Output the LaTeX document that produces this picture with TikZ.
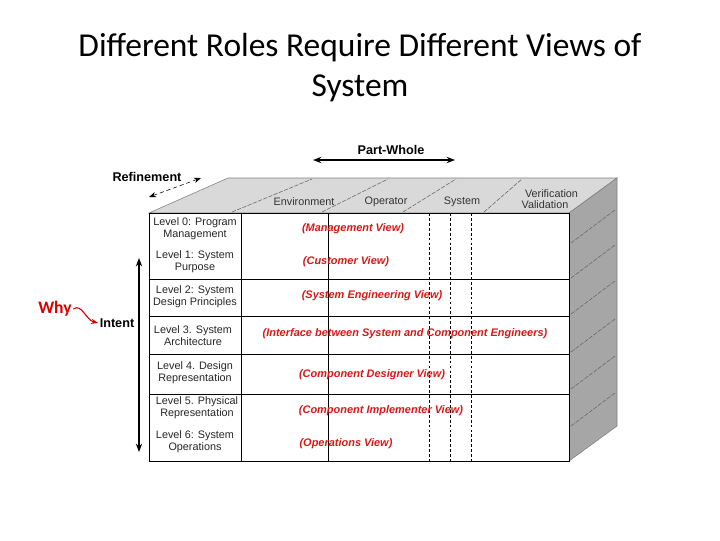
\documentclass[tikz,border=0pt]{standalone}
\usepackage{fontspec}
\setmainfont{Liberation Sans}
\newfontfamily\titlefont{Carlito}
\usetikzlibrary{arrows.meta,positioning,calc}
\definecolor{topgray}{RGB}{217,217,217}
\definecolor{sidegray}{RGB}{166,166,166}
\definecolor{viewred}{RGB}{215,25,25}

\begin{document}
\begin{tikzpicture}[x=0.025cm,y=-0.025cm,font=\fontsize{7.7}{8.6}\selectfont,
  level/.style={align=center,text=black!85,inner sep=1pt},
  view/.style={text=viewred,font=\fontsize{7.8}{9}\selectfont\bfseries\itshape},
  colhead/.style={text=black!80,align=center,inner sep=1pt},
  axis label/.style={font=\fontsize{9}{10}\selectfont\bfseries,inner sep=1pt},
  frame line/.style={draw=black,line width=0.6pt},
  dash line/.style={draw=black,line width=0.5pt,dash pattern=on 2pt off 1.5pt},
  face line/.style={draw=black!60,line width=0.4pt,dash pattern=on 3pt off 1pt}]
\useasboundingbox (0,0) rectangle (720,540);
\node[font=\titlefont\fontsize{23.8}{28.5}\selectfont,align=center] (title) at (360,68) {Different Roles Require Different Views of\\System};
% faces of the block
\filldraw[fill=topgray,draw=black!50] (149,213) -- (228,178) -- (617,178) -- (569,213) -- cycle;
\filldraw[fill=sidegray,draw=black!50] (569,213) -- (617,178) -- (617,426) -- (569,461) -- cycle;
\filldraw[fill=white,frame line] (149,213) rectangle (569,461);
\foreach \a/\b in {232/312, 322/388, 403/456, 484/522}
    \draw[face line] (\a,212) -- (\b,179);
\foreach \y in {243,278,314,352,389,426}
    \draw[face line] (571,\y) -- (615,\y-33);
\foreach \y in {279,316,354,394}
    \draw[frame line] (149,\y) -- (569,\y);
\foreach \x in {241,328}
    \draw[frame line] (\x,213) -- (\x,461);
\foreach \x in {429,450,471}
    \draw[dash line] (\x,213) -- (\x,461);
% column heads
\node[colhead] (env) at (304,202) {Environment};
\node[colhead] (oper) at (386,202) {Operator};
\node[colhead] (sys) at (462,202) {System};
\node[colhead,font=\fontsize{7.7}{8.2}\selectfont] (verval) at (545,199) {\hspace*{1.2em}Verification\\Validation};
% levels
\node[level] (lev0) at (195,229) {Level 0: Program\\Management};
\node[level] (lev1) at (195,262) {Level 1: System\\Purpose};
\node[level] (lev2) at (195,297) {Level 2: System\\Design Principles};
\node[level] (lev3) at (193,336) {Level 3. System\\Architecture};
\node[level] (lev4) at (195,373) {Level 4. Design\\Representation};
\node[level] (lev5) at (197,408) {Level 5. Physical\\Representation};
\node[level] (lev6) at (195,442) {Level 6: System\\Operations};
% views
\node[view] (vw0) at (353,229) {(Management View)};
\node[view] (vw1) at (346,262) {(Customer View)};
\node[view] (vw2) at (372,296) {(System Engineering View)};
\node[view] (vw3) at (405,334) {(Interface between System and Component Engineers)};
\node[view] (vw4) at (372,375) {(Component Designer View)};
\node[view] (vw5) at (381,411) {(Component Implementer View)};
\node[view] (vw6) at (346,444) {(Operations View)};
% axes
\node[axis label] (pw) at (391,150) {Part-Whole};
\coordinate (pwl) at (313,160);
\coordinate (pwr) at (455,160);
\draw[{Stealth[length=6pt]}-{Stealth[length=6pt]}, thick] (pwl) -- (pwr);
\node[axis label] (refine) at (147,177) {Refinement};
\coordinate (rfa) at (149,197);
\coordinate (rfb) at (201,178);
\draw[{Stealth[length=5pt]}-{Stealth[length=5pt]}, densely dashed] (rfa) -- (rfb);
\node[axis label] (intent) at (117,323) {Intent};
\coordinate (ita) at (139,258);
\coordinate (itb) at (139,452);
\draw[{Stealth[length=6pt]}-{Stealth[length=6pt]}, thick] (ita) -- (itb);
\node[text=red!85!black,font=\titlefont\bfseries\fontsize{12.5}{13}\selectfont,inner sep=1pt] (why) at (55,309) {Why};
\draw[red!85!black, thick, -{Stealth[length=5pt]}] (why.east) .. controls +(8,-6) and +(-12,-3) .. (intent.west);
\end{tikzpicture}
\end{document}
